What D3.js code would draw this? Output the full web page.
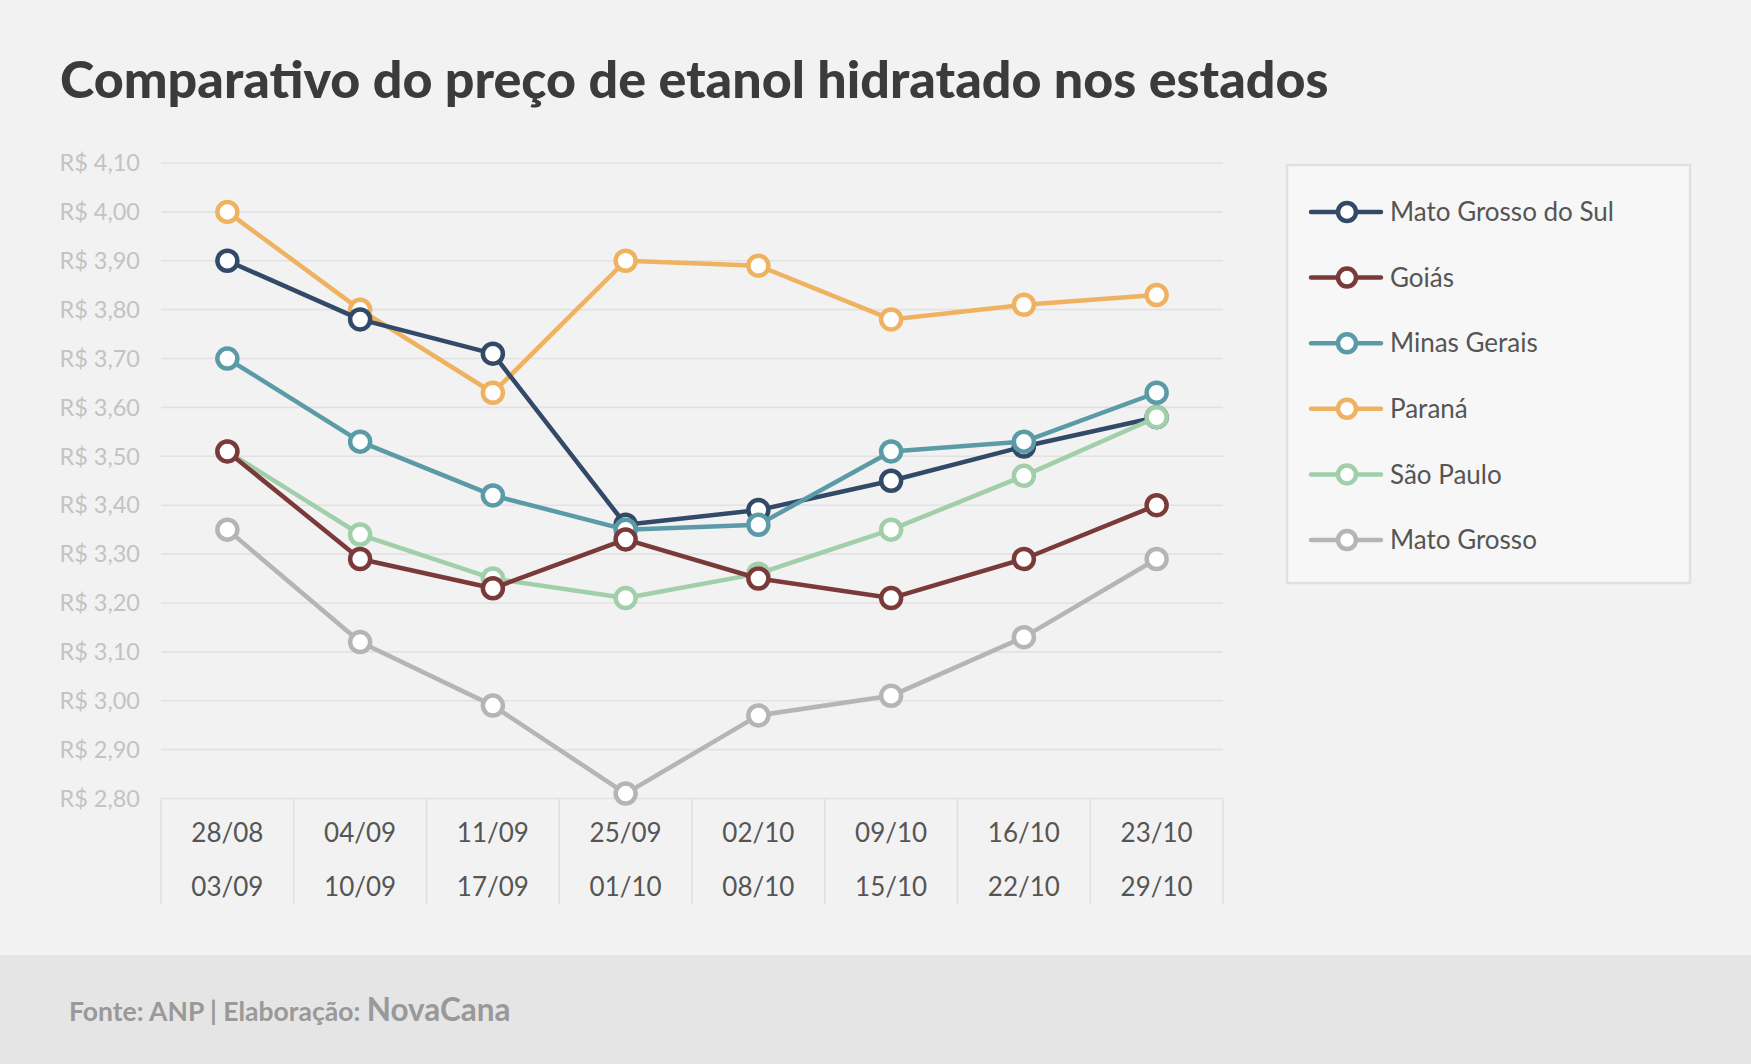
<html>
  <head>
    <title>Comparativo do preço de etanol hidratado nos estados</title>
    <script src="https://d3js.org/d3.v7.min.js"></script>
    <style>
      body { margin: 0; background-color: #f2f2f2; }
      svg { display: block; font-family: Lato, sans-serif; }
    </style>
  </head>
  <body>
    <svg width="1751" height="1064"></svg>

    <script>
      // data
      var weekStart = ["28/08", "04/09", "11/09", "25/09", "02/10", "09/10", "16/10", "23/10"];
      var weekEnd   = ["03/09", "10/09", "17/09", "01/10", "08/10", "15/10", "22/10", "29/10"];

      var matoGrossoDoSul = [3.90, 3.78, 3.71, 3.36, 3.39, 3.45, 3.52, 3.58];
      var goias           = [3.51, 3.29, 3.23, 3.33, 3.25, 3.21, 3.29, 3.40];
      var minasGerais     = [3.70, 3.53, 3.42, 3.35, 3.36, 3.51, 3.53, 3.63];
      var parana          = [4.00, 3.80, 3.63, 3.90, 3.89, 3.78, 3.81, 3.83];
      var saoPaulo        = [3.51, 3.34, 3.25, 3.21, 3.26, 3.35, 3.46, 3.58];
      var matoGrosso      = [3.35, 3.12, 2.99, 2.81, 2.97, 3.01, 3.13, 3.29];

      var yTicks = [2.8, 2.9, 3.0, 3.1, 3.2, 3.3, 3.4, 3.5, 3.6, 3.7, 3.8, 3.9, 4.0, 4.1];

      var series = [
        {name: "Mato Grosso do Sul", values: matoGrossoDoSul, color: "#324a67"},
        {name: "Goiás",              values: goias,           color: "#7b3a3a"},
        {name: "Minas Gerais",       values: minasGerais,     color: "#5b9ba7"},
        {name: "Paraná",             values: parana,          color: "#eeb260"},
        {name: "São Paulo",          values: saoPaulo,        color: "#a0cfa9"},
        {name: "Mato Grosso",        values: matoGrosso,      color: "#b5b5b5"}
      ];
      // which series sits on top of which
      var drawOrder = ["Paraná", "Mato Grosso do Sul", "Minas Gerais", "Mato Grosso", "São Paulo", "Goiás"];

      var svg = d3.select("svg");

      var x = d3.scaleBand().domain(d3.range(weekStart.length)).range([161, 1223]);
      var y = d3.scaleLinear().domain([2.8, 4.1]).range([798.5, 163]);

      var fmt = function(v){ return "R$ " + d3.format(".2f")(v).replace(".", ","); };

      // title
      svg.append("text")
        .attr("x", 60).attr("y", 98)
        .attr("font-size", 52).attr("font-weight", 900)
        .attr("fill", "#3b3b3b")
        .text("Comparativo do preço de etanol hidratado nos estados");

      // gridlines + y labels
      var yAxis = svg.append("g");
      yAxis.selectAll("line").data(yTicks).enter().append("line")
        .attr("x1", 161).attr("x2", 1223)
        .attr("y1", function(d){ return y(d); })
        .attr("y2", function(d){ return y(d); })
        .attr("stroke", "#e2e2e2").attr("stroke-width", 1.6);
      yAxis.selectAll("text").data(yTicks).enter().append("text")
        .attr("x", 140)
        .attr("y", function(d){ return y(d); })
        .attr("dy", "0.35em")
        .attr("text-anchor", "end")
        .attr("font-size", 23.5)
        .attr("fill", "#c3c3c3")
        .text(fmt);

      // x axis: separators + two-line labels
      var xAxis = svg.append("g");
      xAxis.selectAll("line").data(d3.range(weekStart.length + 1)).enter().append("line")
        .attr("x1", function(i){ return i < weekStart.length ? x(i) : x.range()[1]; })
        .attr("x2", function(i){ return i < weekStart.length ? x(i) : x.range()[1]; })
        .attr("y1", y(2.8)).attr("y2", 904)
        .attr("stroke", "#e0e0e0").attr("stroke-width", 1.6);
      xAxis.selectAll("text.top").data(weekStart).enter().append("text")
        .attr("class", "top")
        .attr("x", function(d, i){ return x(i) + x.bandwidth() / 2; })
        .attr("y", 833).attr("dy", "0.35em")
        .attr("text-anchor", "middle").attr("font-size", 26).attr("fill", "#555")
        .text(function(d){ return d; });
      xAxis.selectAll("text.bot").data(weekEnd).enter().append("text")
        .attr("class", "bot")
        .attr("x", function(d, i){ return x(i) + x.bandwidth() / 2; })
        .attr("y", 887).attr("dy", "0.35em")
        .attr("text-anchor", "middle").attr("font-size", 26).attr("fill", "#555")
        .text(function(d){ return d; });

      // lines + markers
      var line = d3.line()
        .x(function(d, i){ return x(i) + x.bandwidth() / 2; })
        .y(function(d){ return y(d); });

      drawOrder.forEach(function(name){
        var s = series.find(function(d){ return d.name === name; });
        var g = svg.append("g");
        g.append("path")
          .attr("d", line(s.values))
          .attr("fill", "none")
          .attr("stroke", s.color).attr("stroke-width", 4.5)
          .attr("stroke-linejoin", "round");
        g.selectAll("circle").data(s.values).enter().append("circle")
          .attr("cx", function(d, i){ return x(i) + x.bandwidth() / 2; })
          .attr("cy", function(d){ return y(d); })
          .attr("r", 10)
          .attr("fill", "#fff")
          .attr("stroke", s.color).attr("stroke-width", 4.5);
      });

      // legend
      var legend = svg.append("g");
      legend.append("rect")
        .attr("x", 1287).attr("y", 165).attr("width", 403).attr("height", 418)
        .attr("fill", "#f7f7f7").attr("stroke", "#e0e0e0").attr("stroke-width", 2.5);
      var item = legend.selectAll("g").data(series).enter().append("g")
        .attr("transform", function(d, i){ return "translate(0," + (212 + i * 65.6) + ")"; });
      item.append("line")
        .attr("x1", 1311).attr("x2", 1381)
        .attr("stroke", function(d){ return d.color; }).attr("stroke-width", 4.5)
        .attr("stroke-linecap", "round");
      item.append("circle")
        .attr("cx", 1347).attr("r", 9)
        .attr("fill", "#fff")
        .attr("stroke", function(d){ return d.color; }).attr("stroke-width", 4.5);
      item.append("text")
        .attr("x", 1390).attr("dy", "0.35em")
        .attr("font-size", 26).attr("fill", "#555")
        .text(function(d){ return d.name; });

      // footer
      svg.append("rect")
        .attr("x", 0).attr("y", 955).attr("width", 1751).attr("height", 109)
        .attr("fill", "#e5e5e5");
      var foot = svg.append("text")
        .attr("x", 69).attr("y", 1021)
        .attr("font-weight", 700).attr("fill", "#999");
      foot.append("tspan").attr("font-size", 26.5).text("Fonte: ANP | Elaboração: ");
      foot.append("tspan").attr("font-size", 31.5).text("NovaCana");
    </script>
  </body>
</html>
